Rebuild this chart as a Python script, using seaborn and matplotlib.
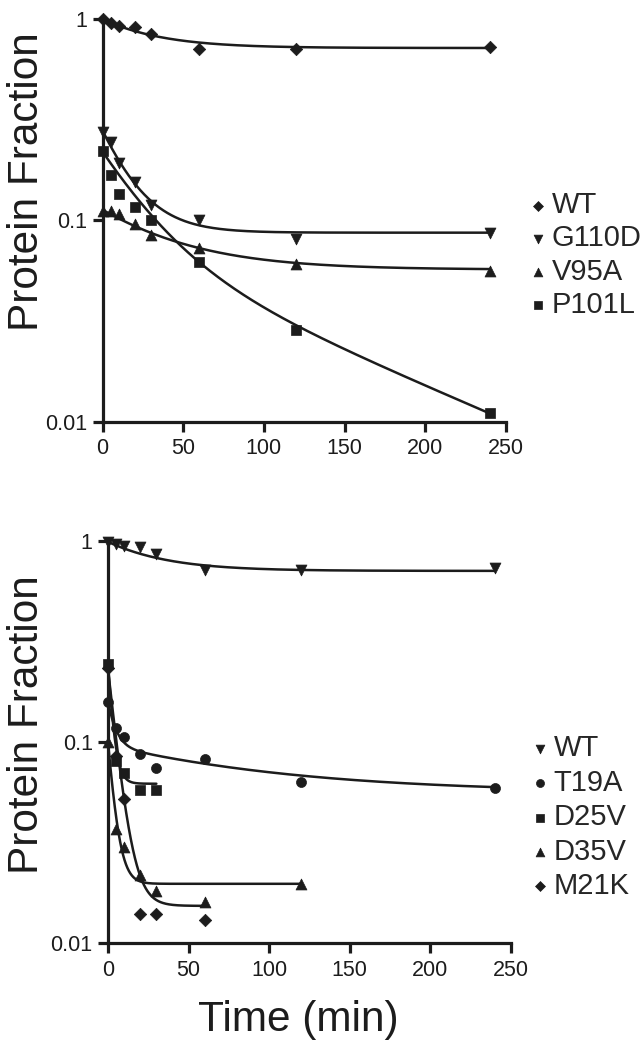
import numpy as np
import pandas as pd
import matplotlib
matplotlib.use("Agg")
import matplotlib.pyplot as plt
import seaborn as sns

### data

time_pts = [0, 5, 10, 20, 30, 60, 120, 240]

# top panel
top_names = ["WT", "G110D", "V95A", "P101L"]
top_markers = ["D", "v", "^", "s"]
top_wt = [1.0, 0.96, 0.93, 0.92, 0.85, 0.71, 0.71, 0.73]
top_g110d = [0.276, 0.246, 0.192, 0.156, 0.120, 0.100, 0.081, 0.087]
top_v95a = [0.112, 0.111, 0.108, 0.096, 0.085, 0.073, 0.061, 0.056]
top_p101l = [0.221, 0.169, 0.136, 0.117, 0.101, 0.062, 0.0284, 0.011]

# fitted decay curves: fast*exp(-kf t) + slow*exp(-ks t) + plateau
top_fast_amp = [0.28, 0.193, 0.056, 0.147]
top_fast_rate = [0.03, 0.054, 0.021, 0.0364]
top_slow_amp = [0.0, 0.0, 0.0, 0.073]
top_slow_rate = [0.0, 0.0, 0.0, 0.0079]
top_plateau = [0.72, 0.087, 0.057, 0.0]
top_fit_end = [240, 240, 240, 240]

# bottom panel
bot_names = ["WT", "T19A", "D25V", "D35V", "M21K"]
bot_markers = ["v", "o", "s", "^", "D"]
bot_times = [
    [0, 5, 10, 20, 30, 60, 120, 240],
    [0, 5, 10, 20, 30, 60, 120, 240],
    [0, 5, 10, 20, 30],
    [0, 5, 10, 20, 30, 60, 120],
    [0, 5, 10, 20, 30, 60],
]
bot_wt = [0.99, 0.97, 0.94, 0.93, 0.86, 0.72, 0.72, 0.73]
bot_t19a = [0.158, 0.117, 0.106, 0.087, 0.074, 0.082, 0.063, 0.059]
bot_d25v = [0.245, 0.080, 0.070, 0.058, 0.058]
bot_d35v = [0.100, 0.037, 0.030, 0.0218, 0.0182, 0.016, 0.0197]
bot_m21k = [0.233, 0.085, 0.052, 0.014, 0.014, 0.013]

bot_fast_amp = [0.28, 0.062, 0.183, 0.080, 0.215]
bot_fast_rate = [0.03, 0.216, 0.35, 0.25, 0.177]
bot_slow_amp = [0.0, 0.04, 0.0, 0.0, 0.0]
bot_slow_rate = [0.0, 0.01, 0.0, 0.0, 0.0]
bot_plateau = [0.71, 0.056, 0.062, 0.0197, 0.0153]
bot_fit_end = [240, 240, 30, 120, 60]

ink = "#1c1c1c"

sns.set_style("ticks")
plt.rcParams["font.family"] = ["Liberation Sans", "DejaVu Sans"]
plt.rcParams["axes.linewidth"] = 2.3

fig = plt.figure(figsize=(6.44, 10.5), dpi=100)
ax1 = fig.add_axes([102.5 / 644, 1 - 421.7 / 1050, 403.5 / 644, 402.4 / 1050])
ax2 = fig.add_axes([108 / 644, 1 - 943 / 1050, 403 / 644, 402 / 1050])


def draw_panel(ax, names, markers, times, values, fa, fr, sa, sr, pl, ends):
    for i, name in enumerate(names):
        df = pd.DataFrame({"t": times[i], "y": values[i]})
        tt = np.linspace(0, ends[i], 400)
        fit = pd.DataFrame({"t": tt,
                            "y": fa[i] * np.exp(-fr[i] * tt) + sa[i] * np.exp(-sr[i] * tt) + pl[i]})
        sns.lineplot(data=fit, x="t", y="y", ax=ax, color=ink, lw=1.8,
                     legend=False, sort=False)
        size = 62 if markers[i] in ("v", "^") else 52
        if markers[i] == "D":
            size = 40
        sns.scatterplot(data=df, x="t", y="y", ax=ax, marker=markers[i],
                        s=size, color=ink, edgecolor=ink, linewidth=0.5,
                        label=name, clip_on=False, zorder=4)

    ax.set_yscale("log")
    ax.set_ylim(0.01, 1)
    ax.set_xlim(0, 250)
    ax.set_yticks([0.01, 0.1, 1])
    ax.set_yticklabels(["0.01", "0.1", "1"])
    ax.yaxis.set_minor_locator(matplotlib.ticker.NullLocator())
    ax.set_xticks([0, 50, 100, 150, 200, 250])
    ax.set_xlabel("")
    ax.set_ylabel("")
    sns.despine(ax=ax)
    for s in ["left", "bottom"]:
        ax.spines[s].set_color(ink)
    ax.tick_params(axis="both", length=7, width=2.3, color=ink,
                   labelsize=15.5, labelcolor=ink)
    ax.tick_params(axis="y", pad=4)
    ax.tick_params(axis="x", pad=5)


draw_panel(ax1, top_names, top_markers, [time_pts] * 4,
           [top_wt, top_g110d, top_v95a, top_p101l],
           top_fast_amp, top_fast_rate, top_slow_amp, top_slow_rate,
           top_plateau, top_fit_end)
draw_panel(ax2, bot_names, bot_markers, bot_times,
           [bot_wt, bot_t19a, bot_d25v, bot_d35v, bot_m21k],
           bot_fast_amp, bot_fast_rate, bot_slow_amp, bot_slow_rate,
           bot_plateau, bot_fit_end)

ax1.legend(loc="center left", bbox_to_anchor=(1.062, 0.414), frameon=False,
           fontsize=21, handlelength=0.5, handletextpad=0.2, labelspacing=0.18,
           borderaxespad=0, borderpad=0, markerscale=0.8)
ax2.legend(loc="center left", bbox_to_anchor=(1.055, 0.313), frameon=False,
           fontsize=21, handlelength=0.5, handletextpad=0.2, labelspacing=0.22,
           borderaxespad=0, borderpad=0, markerscale=0.8)

fig.text(27 / 644, 1 - 182 / 1050, "Protein Fraction", rotation=90,
         ha="center", va="center", fontsize=30.5, color=ink)
fig.text(27 / 644, 1 - 725 / 1050, "Protein Fraction", rotation=90,
         ha="center", va="center", fontsize=30.5, color=ink)
fig.text(298 / 644, 1 - 1020 / 1050, "Time (min)", ha="center", va="center",
         fontsize=30.5, color=ink)

fig.savefig("out.png", dpi=100, facecolor="white")
